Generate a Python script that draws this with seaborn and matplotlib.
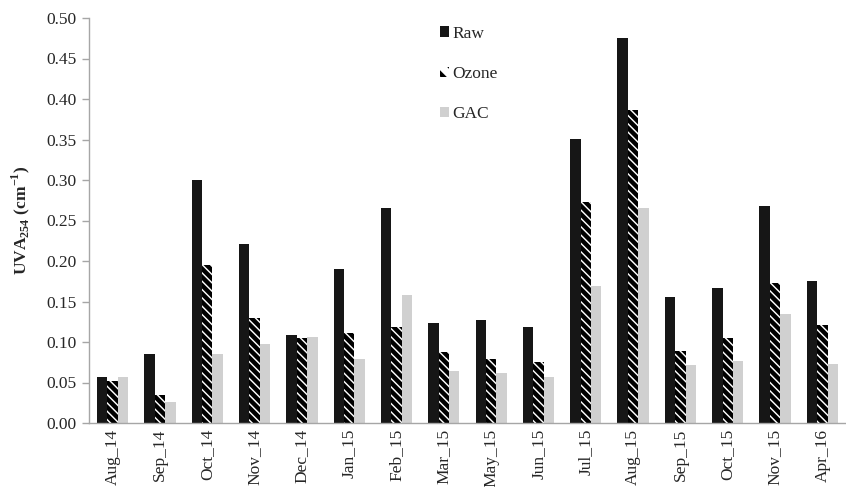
import numpy as np
import pandas as pd
import matplotlib
matplotlib.use("Agg")
import matplotlib.pyplot as plt
import matplotlib.patches as mpatches
import seaborn as sns

months = ["Aug_14", "Sep_14", "Oct_14", "Nov_14", "Dec_14", "Jan_15", "Feb_15", "Mar_15",
          "May_15", "Jun_15", "Jul_15", "Aug_15", "Sep_15", "Oct_15", "Nov_15", "Apr_16"]
raw = [0.057, 0.085, 0.300, 0.221, 0.109, 0.190, 0.266, 0.123,
       0.127, 0.119, 0.351, 0.475, 0.155, 0.167, 0.268, 0.175]
ozone = [0.052, 0.034, 0.195, 0.130, 0.105, 0.111, 0.118, 0.088,
         0.079, 0.075, 0.273, 0.386, 0.089, 0.105, 0.173, 0.121]
gac = [0.057, 0.026, 0.085, 0.098, 0.106, 0.079, 0.158, 0.064,
       0.062, 0.057, 0.169, 0.265, 0.071, 0.077, 0.134, 0.073]
series = ["Raw", "Ozone", "GAC"]
yticks = [0.00, 0.05, 0.10, 0.15, 0.20, 0.25, 0.30, 0.35, 0.40, 0.45, 0.50]

df = pd.DataFrame({
    "month": months * 3,
    "value": raw + ozone + gac,
    "series": np.repeat(series, len(months)),
})

sns.set_style("white")
plt.rcParams["font.family"] = ["Liberation Serif", "DejaVu Serif"]
plt.rcParams["mathtext.fontset"] = "custom"
plt.rcParams["mathtext.rm"] = "Liberation Serif"
plt.rcParams["mathtext.bf"] = "Liberation Serif:bold"
plt.rcParams["hatch.linewidth"] = 3.2
plt.rcParams["hatch.color"] = "black"

fig = plt.figure(figsize=(8.46, 4.87), dpi=100)
ax = fig.add_axes([89 / 846, 64 / 487, 757 / 846, 405 / 487])

black = "#161616"
grey = "#d0d0d0"
sns.barplot(data=df, x="month", y="value", hue="series", hue_order=series,
            palette=[black, "white", grey], width=0.66, gap=0,
            linewidth=0, legend=False, ax=ax)

# ozone bars: white with thick black diagonal stripes
for p in ax.containers[1]:
    p.set_facecolor("white")
    p.set_edgecolor("black")
    p.set_linewidth(0)
    p.set_hatch("\\\\\\\\")

ax.set_xlim(-0.5, len(months) - 0.5)
ax.set_ylim(0, 0.5)
ax.set_yticks(yticks)
ax.set_yticklabels([f"{v:.2f}" for v in yticks], fontsize=12.5)
ax.set_xticks(range(len(months)))
ax.set_xticklabels(months, rotation=90, fontsize=12.5)
ax.set_xticks(np.arange(-0.5, len(months)), minor=True)
ax.tick_params(axis="x", which="major", length=0, pad=4)
ax.tick_params(axis="x", which="minor", length=6, color="#a6a6a6", width=1)
ax.tick_params(axis="y", length=5, color="#a6a6a6", width=1, left=True, pad=4)
ax.set_xlabel("")
ax.set_ylabel(r"UVA$_{\mathbf{254}}$ (cm$^{\mathbf{-1}}$)", fontsize=12.5,
              fontweight="bold", labelpad=10)

for s in ["top", "right"]:
    ax.spines[s].set_visible(False)
for s in ["left", "bottom"]:
    ax.spines[s].set_color("#a6a6a6")
    ax.spines[s].set_linewidth(1)

handles = [
    mpatches.Patch(facecolor=black, edgecolor="none", label="Raw"),
    mpatches.Patch(facecolor="white", edgecolor="black", linewidth=0, hatch="\\\\", label="Ozone"),
    mpatches.Patch(facecolor=grey, edgecolor="none", label="GAC"),
]
fig.legend(handles=handles, loc="upper left", bbox_to_anchor=(424 / 846, 1 - 10 / 487),
           frameon=False, fontsize=12.5, handlelength=0.55, handleheight=0.55,
           handletextpad=0.2, labelspacing=1.4)

fig.savefig("out.png", dpi=100)
